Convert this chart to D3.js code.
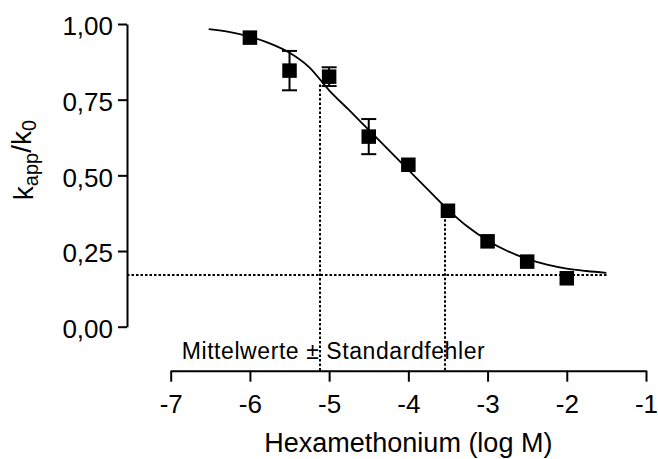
<!DOCTYPE html>
<html>
<head>
<meta charset="utf-8">
<script src="https://cdn.jsdelivr.net/npm/d3@7"></script>
<style>
  body { margin: 0; background: #fff; }
  svg text { font-family: "Liberation Sans", Arial, sans-serif; fill: #000; }
</style>
</head>
<body>
<script>
// Hexamethonium concentration (log M) and normalised rate constant k_app/k_0
const logConc = [-6, -5.5, -5, -4.5, -4, -3.5, -3, -2.5, -2];
const kRatio  = [0.955, 0.846, 0.826, 0.628, 0.535, 0.383, 0.282, 0.215, 0.160];
const kSem    = [0, 0.065, 0.031, 0.058, 0, 0, 0, 0, 0];

// fitted curve
const fitX = [-6.52, -6.25, -6.0, -5.75, -5.5, -5.25, -5.0, -4.75, -4.5, -4.25, -4.0,
              -3.75, -3.5, -3.25, -3.0, -2.75, -2.5, -2.25, -2.0, -1.75, -1.5];
const fitY = [0.983, 0.973, 0.958, 0.936, 0.905, 0.857, 0.781, 0.716, 0.650, 0.584, 0.518,
              0.452, 0.387, 0.330, 0.285, 0.250, 0.224, 0.205, 0.192, 0.184, 0.178];

// dotted guide lines
const plateau = 0.171;
const plateauEnd = -1.49;
const guideX = [-5.115, -3.537];
const guideY = [0.80, 0.385];

const xTicks = [-7, -6, -5, -4, -3, -2, -1];
const yTicks = [0, 0.25, 0.5, 0.75, 1];

const width = 658, height = 459;
const yAxisX = 127;        // y axis sits apart from the x range (Prism style)
const xAxisY = 370.7;      // x axis sits below the plot
const plotLeft = 170.7, plotRight = 646, plotTop = 24, plotBottom = 326.7;

const svg = d3.select("body").append("svg")
    .attr("width", width)
    .attr("height", height);

const x = d3.scaleLinear().domain([-7, -1]).range([plotLeft, plotRight]);
const y = d3.scaleLinear().domain([0, 1]).range([plotBottom, plotTop]);

// ----- axes -----
const yAxis = svg.append("g")
    .attr("transform", "translate(" + yAxisX + ",0)")
    .call(d3.axisLeft(y)
        .tickValues(yTicks)
        .tickSize(9)
        .tickSizeOuter(0)
        .tickPadding(5)
        .tickFormat(d => d3.format(".2f")(d).replace(".", ",")));

yAxis.selectAll("text")
    .attr("dy", "0.42em")
    .style("font-size", "26px");

const xAxis = svg.append("g")
    .attr("transform", "translate(0," + xAxisY + ")")
    .call(d3.axisBottom(x)
        .tickValues(xTicks)
        .tickSize(11)
        .tickSizeOuter(0)
        .tickPadding(13)
        .tickFormat(d => String(d)));

xAxis.selectAll("text")
    .style("font-size", "26px");

svg.selectAll(".domain, .tick line")
    .attr("stroke", "#000")
    .attr("stroke-width", 2);

// ----- axis titles -----
svg.append("text")
    .attr("x", x(-4))
    .attr("y", 452)
    .attr("text-anchor", "middle")
    .style("font-size", "27px")
    .text("Hexamethonium (log M)");

const yTitle = svg.append("text")
    .attr("transform", "translate(33,160) rotate(-90)")
    .attr("text-anchor", "middle")
    .style("font-size", "28px");
yTitle.append("tspan").text("k");
yTitle.append("tspan").attr("dy", "0.25em").style("font-size", "20px").text("app");
yTitle.append("tspan").attr("dy", "-0.25em").text("/k");
yTitle.append("tspan").attr("dy", "0.25em").style("font-size", "20px").text("0");

// ----- note -----
svg.append("text")
    .attr("x", 181.7)
    .attr("y", 359)
    .attr("textLength", 303)
    .attr("lengthAdjust", "spacing")
    .style("font-size", "23px")
    .text("Mittelwerte ± Standardfehler");

// ----- dotted guides -----
const dotted = svg.append("g")
    .attr("stroke", "#000")
    .attr("stroke-width", 2)
    .attr("stroke-dasharray", "2.5,2");

dotted.append("line")
    .attr("x1", yAxisX)
    .attr("x2", x(plateauEnd))
    .attr("y1", y(plateau))
    .attr("y2", y(plateau));

dotted.selectAll(".guide")
    .data(guideX)
    .enter().append("line")
    .attr("class", "guide")
    .attr("x1", d => x(d))
    .attr("x2", d => x(d))
    .attr("y1", (d, i) => y(guideY[i]))
    .attr("y2", xAxisY);

// ----- fitted curve -----
const line = d3.line()
    .x((d, i) => x(fitX[i]))
    .y(d => y(d))
    .curve(d3.curveMonotoneX);

svg.append("path")
    .datum(fitY)
    .attr("fill", "none")
    .attr("stroke", "#000")
    .attr("stroke-width", 1.8)
    .attr("d", line);

// ----- error bars -----
const errIdx = d3.range(logConc.length).filter(i => kSem[i] > 0);
const cap = 7.5;
const bars = svg.append("g")
    .attr("stroke", "#000")
    .attr("stroke-width", 2);

errIdx.forEach(function(i) {
    const cx = x(logConc[i]);
    const top = y(kRatio[i] + kSem[i]);
    const bot = y(kRatio[i] - kSem[i]);
    bars.append("line").attr("x1", cx).attr("x2", cx).attr("y1", top).attr("y2", bot);
    bars.append("line").attr("x1", cx - cap).attr("x2", cx + cap).attr("y1", top).attr("y2", top);
    bars.append("line").attr("x1", cx - cap).attr("x2", cx + cap).attr("y1", bot).attr("y2", bot);
});

// ----- points -----
const sq = 14.5;
svg.selectAll(".pt")
    .data(kRatio)
    .enter().append("rect")
    .attr("class", "pt")
    .attr("x", (d, i) => x(logConc[i]) - sq / 2)
    .attr("y", d => y(d) - sq / 2)
    .attr("width", sq)
    .attr("height", sq)
    .attr("fill", "#000");
</script>
</body>
</html>
